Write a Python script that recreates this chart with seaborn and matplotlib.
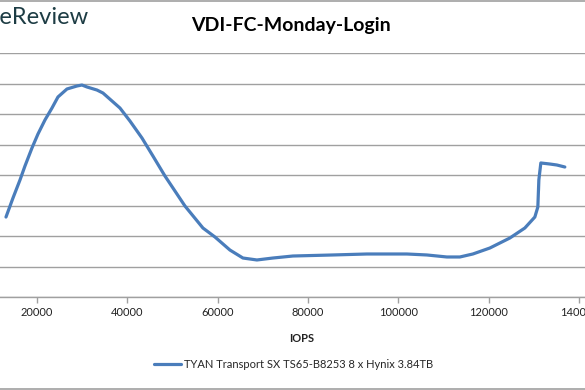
import numpy as np
import pandas as pd
import matplotlib
matplotlib.use("Agg")
import matplotlib.pyplot as plt
import seaborn as sns
from matplotlib.lines import Line2D

# data (y axis labels are cropped out of the picture)
iops = [13142, 14690, 16239, 17345, 18894, 20221, 21770, 23319, 24646, 26637,
        28850, 29956, 31062, 33275, 34602, 38363, 40575, 43230, 45664, 48319,
        52744, 56726, 59381, 62700, 65576, 68673, 72213, 76638, 85487, 93009,
        101859, 106284, 110709, 113585, 116461, 120222, 124647, 127965, 130178,
        130841, 131063, 131063, 131505, 133498, 135046, 136815]
latency_ms = [1.311, 1.623, 1.918, 2.148, 2.443, 2.672, 2.902, 3.098, 3.279, 3.410,
              3.459, 3.475, 3.443, 3.393, 3.344, 3.098, 2.885, 2.607, 2.311, 1.984,
              1.492, 1.131, 0.984, 0.770, 0.639, 0.607, 0.639, 0.672, 0.689, 0.705,
              0.705, 0.689, 0.656, 0.656, 0.705, 0.803, 0.967, 1.131, 1.311,
              1.475, 1.754, 2.082, 2.197, 2.180, 2.164, 2.131]
series_name = "TYAN Transport SX TS65-B8253 8 x Hynix 3.84TB"
chart_title = "VDI-FC-Monday-Login"
x_ticks = [20000, 40000, 60000, 80000, 100000, 120000, 140000]
y_ticks = [0, 0.5, 1, 1.5, 2, 2.5, 3, 3.5, 4]

df = pd.DataFrame({"IOPS": iops, "Latency": latency_ms})

sns.set_theme(style="white")
plt.rcParams["font.family"] = ["Lato", "DejaVu Sans"]

W, H = 585, 390
fig = plt.figure(figsize=(W / 100, H / 100), dpi=100)
fig.patch.set_facecolor("white")

# plot area partly outside the figure, as in the cropped original
ax = fig.add_axes([-53.4 / W, 93 / H, 723 / W, 244 / H])
line_color = "#4a7dbb"
sns.lineplot(data=df, x="IOPS", y="Latency", sort=False, ax=ax,
             color=line_color, linewidth=2.3, legend=False)

ax.set_xlim(0, 160000)
ax.set_ylim(0, 4)
ax.set_xticks(x_ticks)
ax.set_xticklabels([str(t) for t in x_ticks], fontsize=8, color="#222222")
ax.set_yticks(y_ticks)
ax.set_yticklabels([])
ax.tick_params(axis="y", length=0)
ax.yaxis.grid(True, color="#a0a0a0", linewidth=1)
ax.xaxis.grid(False)
for s in ["top", "right", "left"]:
    ax.spines[s].set_visible(False)
ax.spines["bottom"].set_color("#a0a0a0")
ax.spines["bottom"].set_linewidth(1)
ax.tick_params(axis="x", length=4, width=1, color="#a0a0a0", pad=3, bottom=True)
ax.set_xlabel("IOPS", fontsize=8, fontweight="bold", color="#222222")
ax.set_ylabel("")
ax.xaxis.set_label_coords((302 + 53.4) / 723, -36 / 244)

fig.text(291 / W, 1 - 26 / H, chart_title, ha="center", va="center",
         fontsize=14, fontweight="bold", color="black")
fig.text(88 / W, 1 - 18 / H, "StorageReview", ha="right", va="center",
         fontsize=17, color="#1d3c44")

handle = Line2D([], [], color=line_color, linewidth=2.3)
fig.legend([handle], [series_name], loc="center",
           bbox_to_anchor=(294 / W, 1 - 364 / H), frameon=False,
           fontsize=8, handlelength=2.4, handletextpad=0.3)

# chart frame edges at top and bottom
fig.add_artist(Line2D([0, 1], [1 - 0.5 / H, 1 - 0.5 / H], color="#a0a0a0", linewidth=1.2))
fig.add_artist(Line2D([0, 1], [1.5 / H, 1.5 / H], color="#a0a0a0", linewidth=1.2))

fig.savefig("out.png", dpi=100)
